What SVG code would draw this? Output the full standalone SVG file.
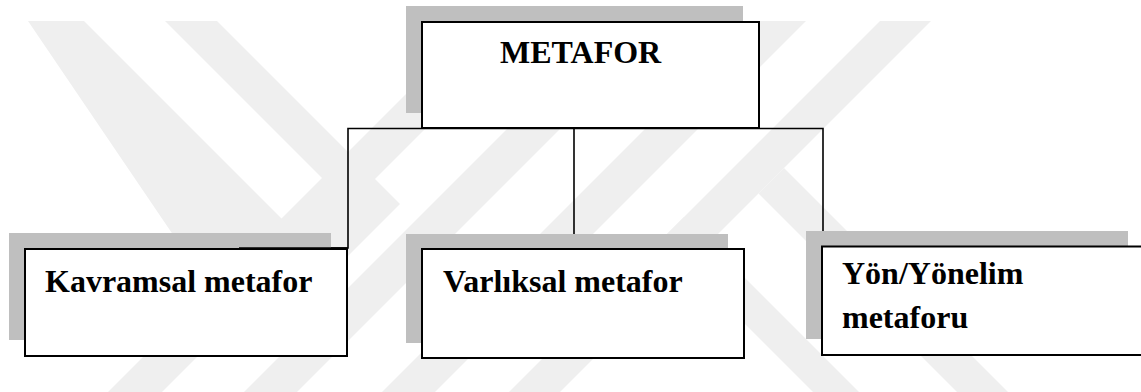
<svg xmlns="http://www.w3.org/2000/svg" width="1141" height="392" viewBox="0 0 1141 392">
<style>
.wm{fill:#efefef}
.shadow{fill:#bfbfbf}
.box{fill:#ffffff;stroke:#000000;stroke-width:2}
.conn{fill:none;stroke:#000000;stroke-width:1.6}
.lbl{font-family:"Liberation Serif","Times New Roman",serif;font-weight:bold;font-size:32px;fill:#000000}
</style>
<rect width="1141" height="392" fill="#ffffff"/>
<g id="watermark">
<polygon class="wm" points="28,21 84,21 282,219 324,180 165,21 217,21 400,204 300,304 220,304"/>
<polygon class="wm" points="108,392 162,392 533,21 479,21"/>
<polygon class="wm" points="244,392 297,392 668,21 615,21"/>
<polygon class="wm" points="382,392 435,392 806,21 753,21"/>
<polygon class="wm" points="509,392 560,392 931,21 880,21"/>
<polygon class="wm" points="661,240 684,217 859,392 813,392"/>
<polygon class="wm" points="758.5,193.5 784,168 1008,392 957,392"/>
</g>
<g id="connectors">
<path class="conn" d="M239,248 H348 V128.5 H823 V246.5"/>
<path class="conn" d="M574,128.5 V249"/>
</g>
<g id="node-metafor">
<rect class="shadow" x="406" y="6" width="337" height="107"/>
<rect class="box" x="422" y="22" width="337" height="106"/>
<text class="lbl" x="500" y="63">METAFOR</text>
</g>
<g id="node-kavramsal">
<rect class="shadow" x="9" y="233" width="322" height="107"/>
<rect class="box" x="25" y="249" width="322" height="107"/>
<text class="lbl" x="45" y="291.5">Kavramsal metafor</text>
</g>
<g id="node-varliksal">
<rect class="shadow" x="406" y="234" width="322" height="109"/>
<rect class="box" x="422" y="249" width="322" height="109"/>
<text class="lbl" x="443" y="291.5">Varlıksal metafor</text>
</g>
<g id="node-yon">
<rect class="shadow" x="806" y="231" width="322" height="108"/>
<rect class="box" x="822" y="246.5" width="322" height="108.5"/>
<text class="lbl" x="842" y="284">Yön/Yönelim</text>
<text class="lbl" x="842" y="328">metaforu</text>
</g>
<g id="connector-overlay">
<path class="conn" d="M239,248 H348"/>
</g>
</svg>
